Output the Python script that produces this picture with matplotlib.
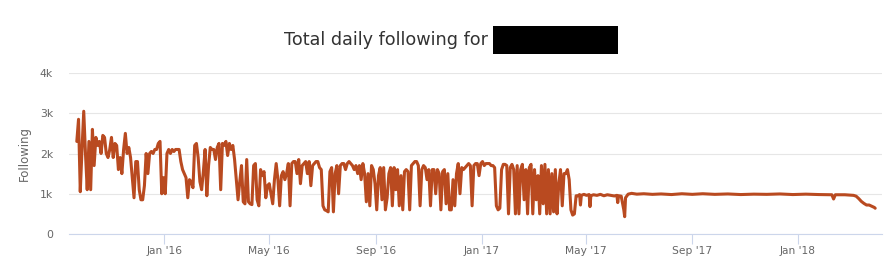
import matplotlib
matplotlib.use("Agg")
import matplotlib.pyplot as plt
import matplotlib.dates as mdates
from matplotlib.patches import Rectangle
from matplotlib.ticker import FixedLocator, FuncFormatter
import pandas as pd

# ---- data -------------------------------------------------------------
# every-other-day readings, starting 2015-09-22
daily_start = "2015-09-22"
daily_following = [
    2300, 2850, 1050, 2100, 3050, 2000, 1100, 2300, 1100, 2600,
    1700, 2400, 2200, 2300, 2000, 2450, 2400, 2000, 1900, 2100,
    2400, 1900, 2250, 2200, 1600, 1900, 1500, 2100, 2500, 2000,
    2150, 1900, 1400, 900, 1800, 1800, 1100, 850, 850, 1200,
    2000, 1500, 2000, 2050, 2000, 2100, 2100, 2250, 2300, 1000,
    1400, 1000, 2000, 2100, 2000, 2100, 2050, 2100,
    2100, 2100, 1800, 1600, 1500, 1400, 900, 1350, 1300, 1150,
    2200, 2250, 1900, 1300, 1100, 1550, 2100, 950, 1700, 2150,
    2100, 2100, 1850, 2150, 2250, 1100, 2250, 2200, 2300, 1950,
    2250, 2100, 2200, 1850, 1350, 850, 1300, 1700, 800, 750,
    1850, 800, 750, 730, 1700, 1750, 850, 700, 1600, 1450,
    1550, 900, 1200, 1250, 1000, 750, 1350, 1750, 1350, 700,
    1450, 1550, 1350, 1500,
    1750, 700, 1750, 1800, 1800, 1500, 1850, 1250, 1700, 1750,
    1800, 1500, 1800, 1200, 1700, 1750, 1800, 1800, 1650, 1600,
    700, 600, 580, 550, 1550, 1650, 550, 1500, 1700, 1000,
    1700, 1750, 1750, 1600, 1750, 1800, 1750, 1700, 1600, 1700,
    1500, 1700, 1350, 1750, 1500, 800, 1500, 700, 1700, 1600,
    1250, 600, 1450, 1650, 850, 1650, 600, 900, 1500, 1650,
    700, 1650, 1100,
    1600, 700, 1450, 600, 1550, 1600, 1550, 600, 1700, 1750,
    1800, 1800, 1700, 700, 1600, 1700, 1650, 1350, 1600, 700,
    1600, 1600, 1000, 1600, 1500, 600, 1550, 1600, 750, 1500,
    600, 600, 1350, 700, 1500, 1750, 1000, 1650, 1600, 1650,
    1700, 1750, 1700, 700, 1700, 1750, 1750, 1450, 1750, 1800,
    1700, 1750, 1750, 1750, 1700, 1700, 1650, 700,
    600, 640, 1600, 1730, 1730, 1700, 500, 1650, 1730, 1600,
    500, 1700, 500, 1600, 1730, 850, 1600, 500, 1650, 1730,
    500, 1600, 850, 1450, 500, 1700, 750, 1730, 500, 1600,
    500, 1500, 550, 1600, 500, 1250, 1600, 700, 1500, 1500,
    1600, 1350, 600, 470, 500, 950,
]

# sparser readings once the series settles (Apr 2017 - Mar 2018)
later_dates = [
    "2017-04-22", "2017-04-24", "2017-04-25", "2017-04-26", "2017-04-29",
    "2017-05-02", "2017-05-05", "2017-05-06", "2017-05-07", "2017-05-10",
    "2017-05-14", "2017-05-18", "2017-05-22", "2017-05-26", "2017-05-30",
    "2017-06-03", "2017-06-06", "2017-06-07", "2017-06-08", "2017-06-11",
    "2017-06-14", "2017-06-15", "2017-06-16", "2017-06-19", "2017-06-23",
    "2017-06-29", "2017-07-07", "2017-07-17", "2017-07-27", "2017-08-08",
    "2017-08-20", "2017-09-01", "2017-09-13", "2017-09-27", "2017-10-12",
    "2017-10-27", "2017-11-11", "2017-11-26", "2017-12-11", "2017-12-26",
    "2018-01-10", "2018-01-25", "2018-02-09", "2018-02-11", "2018-02-13",
    "2018-02-24", "2018-03-06", "2018-03-09", "2018-03-12", "2018-03-15",
    "2018-03-18", "2018-03-21", "2018-03-24", "2018-03-27", "2018-03-30",
    "2018-03-31",
]
later_following = [
    950, 980, 720, 960, 985,
    960, 980, 680, 950, 975,
    960, 985, 950, 975, 960,
    945, 960, 780, 950, 940,
    600, 430, 900, 990, 1010,
    990, 1000, 985, 995, 980,
    1000, 985, 1000, 985, 995,
    980, 990, 985, 995, 980,
    990, 980, 975, 870, 975,
    975, 960, 940, 880, 810,
    760, 720, 720, 690, 660,
    640,
]

y_ticks = [0, 1000, 2000, 3000, 4000]
title_text = "Total daily following for"
y_title = "Following"

# ---- build series -----------------------------------------------------
d1 = pd.date_range(daily_start, periods=len(daily_following), freq="2D")
d2 = pd.to_datetime(later_dates)
dates = list(d1) + list(d2)
values = daily_following + later_following

# ---- figure -----------------------------------------------------------
W, H = 896, 276
fig = plt.figure(figsize=(W / 100, H / 100), dpi=100)
ax = fig.add_axes([69 / W, (H - 234) / H, (881.7 - 69) / W, (234 - 73) / H])

ax.plot(dates, values, color="#b94a20", lw=2.2, solid_joinstyle="round",
        solid_capstyle="round", zorder=3)

ax.set_xlim(pd.Timestamp("2015-09-13"), pd.Timestamp("2018-04-07 12:00"))
ax.set_ylim(0, 4000)

ax.yaxis.set_major_locator(FixedLocator(y_ticks))
ax.yaxis.set_major_formatter(FuncFormatter(
    lambda v, p: "0" if v == 0 else f"{v/1000:g}k"))
ax.xaxis.set_major_locator(mdates.MonthLocator(bymonth=[1, 5, 9]))
ax.xaxis.set_major_formatter(mdates.DateFormatter("%b '%y"))

ax.grid(axis="y", color="#e6e6e6", lw=0.8, zorder=0)
ax.set_axisbelow(True)
for s in ["left", "right", "top"]:
    ax.spines[s].set_visible(False)
ax.spines["bottom"].set_color("#ccd6eb")
ax.spines["bottom"].set_linewidth(0.8)

ax.tick_params(axis="y", length=0, pad=11.5, labelsize=7.8, labelcolor="#666666")
ax.tick_params(axis="x", length=7, width=0.8, color="#ccd6eb", pad=1.5,
               labelsize=7.7, labelcolor="#666666")

ax.set_ylabel(y_title, fontsize=8.4, color="#666666", va="center")
ax.yaxis.set_label_coords((24.5 - 69) / (881.7 - 69), 0.5)

fig.text(284 / W, (H - 45) / H, title_text, fontsize=12.7, color="#333333",
         ha="left", va="baseline")
fig.add_artist(Rectangle((492.7 / W, (H - 53.7) / H), 125 / W, 27.7 / H,
                         transform=fig.transFigure, facecolor="black",
                         edgecolor="none"))

fig.savefig("out.png", dpi=100, facecolor="white")
